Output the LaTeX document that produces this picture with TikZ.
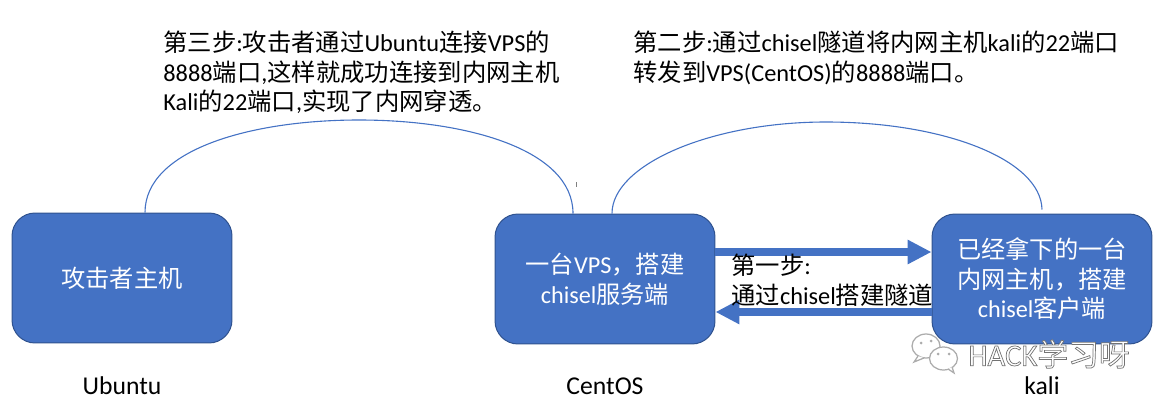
\documentclass[tikz,border=0pt]{standalone}
\usepackage{fontspec}
\setmainfont{Carlito}
\newfontfamily\cjk{Noto Sans CJK SC}
\usetikzlibrary{arrows.meta}
\newcommand{\zh}[1]{{\cjk #1}}
\newcommand{\ghost}[1]{\special{pdf:code q 2 Tr 0.4 w 0.45 G}#1\special{pdf:code Q}}
\definecolor{boxblue}{HTML}{4472C4}
\definecolor{boxedge}{HTML}{2F528F}
\tikzset{
    hostbox/.style={draw=boxedge,fill=boxblue,line width=0.02cm,rounded corners=0.46cm,minimum width=4.4cm,minimum height=2.6cm,text=white,align=center,font=\fontsize{13.8}{16.8}\selectfont},
    note/.style={anchor=west,align=left,inner sep=0pt,font=\fontsize{13.85}{16.8}\selectfont},
    oslabel/.style={font=\fontsize{14.6}{17}\selectfont},
    hoparc/.style={draw=boxblue,line width=0.022cm},
    tunnel/.style={draw=boxblue,line width=0.17cm,-{Triangle[length=0.48cm,width=0.46cm]}},
    bubble/.style={draw=gray!65,fill=white,line width=0.025cm}
}
\begin{document}
\begin{tikzpicture}[x=0.02cm,y=-0.02cm]
        \useasboundingbox (0,0) rectangle (1166,406);
        % hosts
        \node[hostbox] (attacker) at (122,278) {\zh{攻击者主机}};
        \node[hostbox] (vps) at (605,279) {\zh{一台}VPS\zh{，搭建}\\chisel\zh{服务端}};
        \node[hostbox] (kali) at (1042,279) {\zh{已经拿下的一台}\\\zh{内网主机，搭建}\\chisel\zh{客户端}};
        % os names
        \node[oslabel] (ubuntuname) at (122,386) {Ubuntu};
        \node[oslabel] (centosname) at (605,386) {CentOS};
        \node[oslabel] (kaliname) at (1042,386) {kali};
        % arcs
        \draw[hoparc] ([xshift=0.46cm]attacker.north) .. controls (145,150) and (250,120) .. (359,120) .. controls (468,120) and (573,150) .. ([xshift=-0.64cm]vps.north);
        \draw[hoparc] ([xshift=0.14cm]vps.north) .. controls (612,165) and (710,122) .. (826,122) .. controls (945,122) and (1041,160) .. ([yshift=0.08cm]kali.north);
        \draw[gray,line width=0.02cm] (576,182) -- (576,187);
        % tunnel
        \draw[tunnel] ([yshift=0.54cm]vps.east) -- ([yshift=0.54cm]kali.west);
        \draw[tunnel] ([yshift=-0.66cm]kali.west) -- ([yshift=-0.66cm]vps.east);
        % notes
        \node[note] (stepthree) at (163,72.5) {\zh{第三步}:\zh{攻击者通过}Ubuntu\zh{连接}VPS\zh{的}\\8888\zh{端口},\zh{这样就成功连接到内网主机}\\Kali\zh{的}22\zh{端口},\zh{实现了内网穿透。}};
        \node[note] (steptwo) at (633,58) {\zh{第二步}:\zh{通过}chisel\zh{隧道将内网主机}kali\zh{的}22\zh{端口}\\\zh{转发到}VPS(CentOS)\zh{的}8888\zh{端口。}};
        \node[note] (stepone) at (731,280) {\zh{第一步}:\\\zh{通过}chisel\zh{搭建隧道}};
        % watermark
        \draw[bubble] (926,346) ellipse (14 and 12);
        \draw[bubble] (918,356) -- (914,362) -- (924,358);
        \draw[bubble] (943.5,358.5) ellipse (14 and 11.5);
        \draw[bubble] (948,369) -- (954,373) -- (952,367);
        \foreach \dotx/\doty in {921/343,931/341,938/354,949/354}
            \fill[gray!65] (\dotx,\doty) circle (1.5);
        \node[anchor=west,inner sep=0pt,text=white,font=\fontsize{17.5}{20}\selectfont] (brand) at (968,354) {\ghost{HACK\zh{学习呀}}};
    \end{tikzpicture}
\end{document}
